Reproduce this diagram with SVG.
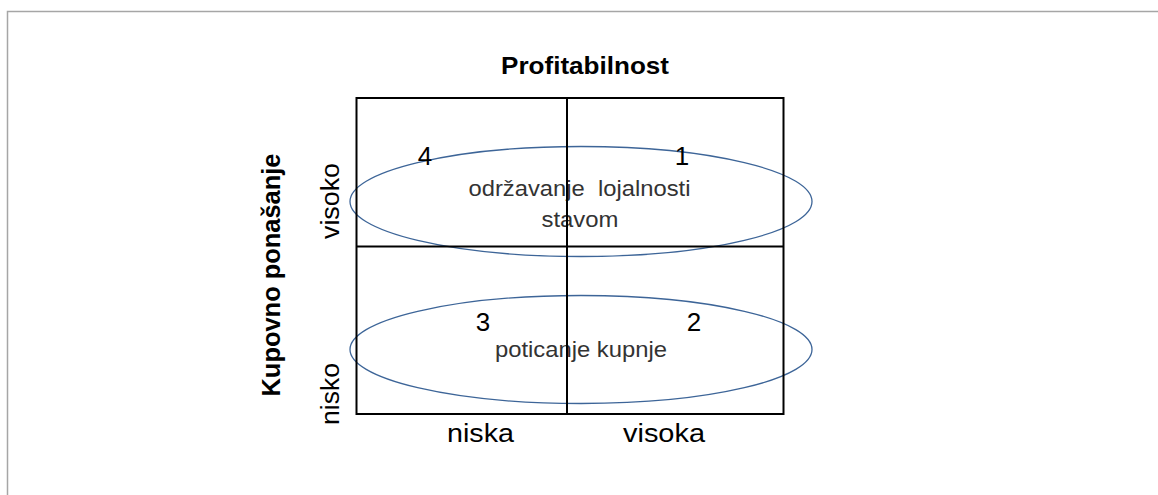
<svg xmlns="http://www.w3.org/2000/svg" width="1158" height="495" viewBox="0 0 1158 495">
  <style>
    .frame { fill: none; stroke: #a6a6a6; stroke-width: 1.5; }
    .grid { fill: none; stroke: #000; stroke-width: 2; }
    .oval { fill: none; stroke: #3d6598; stroke-width: 1.3; }
    .lbl { font-family: "Liberation Sans", Arial, sans-serif; fill: #000; text-anchor: middle; }
    .bold { font-weight: bold; }
    .big { font-size: 26px; }
    .inner { font-family: "Liberation Sans", Arial, sans-serif; font-size: 22px; fill: #333; text-anchor: middle; white-space: pre; }
  </style>
  <rect width="1158" height="495" fill="#fff"/>
  <path class="frame" d="M7.5,495 V11.5 H1158"/>

  <g id="title">
    <text class="lbl bold" x="585" y="74" font-size="24" textLength="168" lengthAdjust="spacingAndGlyphs">Profitabilnost</text>
  </g>
  <g id="y-axis-label">
    <text class="lbl bold" font-size="25" transform="translate(280,275) rotate(-90)" textLength="243" lengthAdjust="spacingAndGlyphs">Kupovno ponašanje</text>
  </g>
  <g id="y-visoko">
    <text class="lbl big" transform="translate(339,201) rotate(-90)" textLength="76" lengthAdjust="spacingAndGlyphs">visoko</text>
  </g>
  <g id="y-nisko">
    <text class="lbl big" transform="translate(339,394) rotate(-90)" textLength="62" lengthAdjust="spacingAndGlyphs">nisko</text>
  </g>
  <g id="x-niska">
    <text class="lbl big" x="480.5" y="442" textLength="67" lengthAdjust="spacingAndGlyphs">niska</text>
  </g>
  <g id="x-visoka">
    <text class="lbl big" x="664" y="442" textLength="82" lengthAdjust="spacingAndGlyphs">visoka</text>
  </g>

  <g id="oval-loyalty">
    <ellipse class="oval" cx="581" cy="201.5" rx="231" ry="55"/>
    <text class="inner" x="579.5" y="196" textLength="222" lengthAdjust="spacingAndGlyphs">održavanje  lojalnosti</text>
    <text class="inner" x="580" y="226.5" textLength="77" lengthAdjust="spacingAndGlyphs">stavom</text>
  </g>
  <g id="oval-purchase">
    <ellipse class="oval" cx="581" cy="349.5" rx="231" ry="54"/>
    <text class="inner" x="581" y="357" textLength="172" lengthAdjust="spacingAndGlyphs">poticanje kupnje</text>
  </g>

  <g id="grid">
    <rect class="grid" x="356.5" y="98" width="427" height="316"/>
    <line class="grid" x1="567" y1="98" x2="567" y2="414"/>
    <line class="grid" x1="356.5" y1="246.5" x2="783.5" y2="246.5"/>
  </g>

  <g id="q4"><text class="lbl big" x="425" y="165">4</text></g>
  <g id="q1"><text class="lbl big" x="682" y="165">1</text></g>
  <g id="q3"><text class="lbl big" x="483" y="331">3</text></g>
  <g id="q2"><text class="lbl big" x="694" y="331">2</text></g>
</svg>
